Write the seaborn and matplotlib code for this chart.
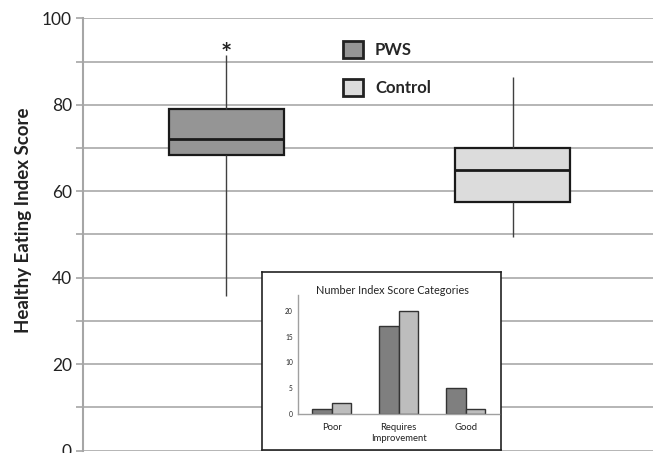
import numpy as np
import pandas as pd
import matplotlib
matplotlib.use("Agg")
import matplotlib.pyplot as plt
from matplotlib.patches import Patch
import seaborn as sns

# ---- data ----
groups = ["PWS", "Control"]
# five-number summaries: min, Q1, median, Q3, max
pws_summary = [35.8, 68.3, 72.0, 79.1, 91.4]
control_summary = [49.3, 57.6, 64.8, 70.0, 86.5]

inset_categories = ["Poor", "Requires\nImprovement", "Good"]
inset_pws = [1, 17, 5]
inset_control = [2, 20, 1]

y_ticks = [0, 20, 40, 60, 80, 100]

box_colors = {"PWS": "#959595", "Control": "#DCDCDC"}
bar_colors = {"PWS": "#7F7F7F", "Control": "#BDBDBD"}

sns.set_style("white")
plt.rcParams["font.family"] = ["Lato", "DejaVu Sans"]

W, H = 653, 453
fig = plt.figure(figsize=(W / 100, H / 100), dpi=100)

def fx(px):
    return px / W

def fy(py):
    return (H - py) / H

# main axes
ax = fig.add_axes([fx(83), fy(450.5), (656 - 83) / W, (450.5 - 18.3) / H])

box_df = pd.DataFrame({
    "group": ["PWS"] * 5 + ["Control"] * 5,
    "score": pws_summary + control_summary,
})
sns.boxplot(data=box_df, x="group", y="score", hue="group", order=groups,
            palette=box_colors, width=0.4, whis=(0, 100), showcaps=False,
            linecolor="#1a1a1a", linewidth=1.6, legend=False,
            whiskerprops=dict(color="#404040", linewidth=1.0),
            medianprops=dict(color="#1a1a1a", linewidth=2.0),
            ax=ax)

ax.set_xlim(-0.5, 1.5)
ax.set_ylim(0, 100)
ax.set_yticks(y_ticks)
ax.set_yticks(np.arange(10, 100, 20), minor=True)
ax.set_yticklabels([str(t) for t in y_ticks], fontsize=12.5, color="#222222")
ax.tick_params(axis="y", which="both", length=5, width=1.2, color="#A6A6A6",
               pad=3, left=True)
ax.tick_params(axis="x", length=0, labelbottom=False)
ax.set_xlabel("")
ax.set_ylabel("Healthy Eating Index Score", fontsize=13.5, fontweight="bold",
              color="#222222")
ax.yaxis.set_label_coords(-0.089, 0.533)
ax.grid(axis="y", which="both", color="#B0B0B0", linewidth=1.3)
ax.set_axisbelow(True)
for s in ["top", "right", "bottom"]:
    ax.spines[s].set_visible(False)
ax.spines["left"].set_color("#A6A6A6")
ax.spines["left"].set_linewidth(1.5)

ax.text(0, 89.0, "*", ha="center", va="bottom", fontsize=19,
        fontweight="bold", color="#222222")

handles = [Patch(facecolor=box_colors[g], edgecolor="#222222", linewidth=2)
           for g in groups]
fig.legend(handles, groups, loc="upper left",
           bbox_to_anchor=(fx(342.5), fy(40.5)), frameon=False,
           prop=dict(weight="bold", size=12), handlelength=1.2,
           handleheight=1.2, handletextpad=0.75, labelspacing=1.28,
           borderpad=0, borderaxespad=0)

# inset frame
frame = fig.add_axes([fx(261.7), fy(450), (501 - 261.7) / W, (450 - 272.3) / H])
frame.set_xticks([])
frame.set_yticks([])
frame.set_facecolor("white")
for s in frame.spines.values():
    s.set_color("#222222")
    s.set_linewidth(1.2)
frame.set_zorder(3)

# inset bar chart
iax = fig.add_axes([fx(298.3), fy(413.7), (499 - 298.3) / W, (413.7 - 295) / H])
iax.set_zorder(4)
iax.patch.set_alpha(0)
bar_df = pd.DataFrame({
    "category": inset_categories * 2,
    "group": ["PWS"] * 3 + ["Control"] * 3,
    "count": inset_pws + inset_control,
})
sns.barplot(data=bar_df, x="category", y="count", hue="group",
            hue_order=groups, palette=bar_colors, width=0.58, gap=0,
            edgecolor="#333333", linewidth=1.0, legend=False, ax=iax)
iax.set_xlim(-0.5, 2.5)
iax.set_ylim(0, 23.1)
iax.set_yticks([0, 5, 10, 15, 20])
iax.tick_params(axis="y", labelsize=4.8, length=2, width=0.8, color="#A0A0A0",
                pad=2, labelcolor="#222222")
iax.tick_params(axis="x", which="major", length=0, labelsize=6.8, pad=7,
                labelcolor="#222222")
iax.set_xticks([-0.5, 0.5, 1.5, 2.5], minor=True)
iax.tick_params(axis="x", which="minor", length=2, width=0.8, color="#A0A0A0")
iax.set_xlabel("")
iax.set_ylabel("")
for s in ["top", "right"]:
    iax.spines[s].set_visible(False)
for s in ["left", "bottom"]:
    iax.spines[s].set_color("#A0A0A0")
    iax.spines[s].set_linewidth(1.0)
fig.text(fx(392), fy(290), "Number Index Score Categories", ha="center",
         va="center", fontsize=7.8, color="#222222", zorder=5)

fig.savefig("out.png", dpi=100)
